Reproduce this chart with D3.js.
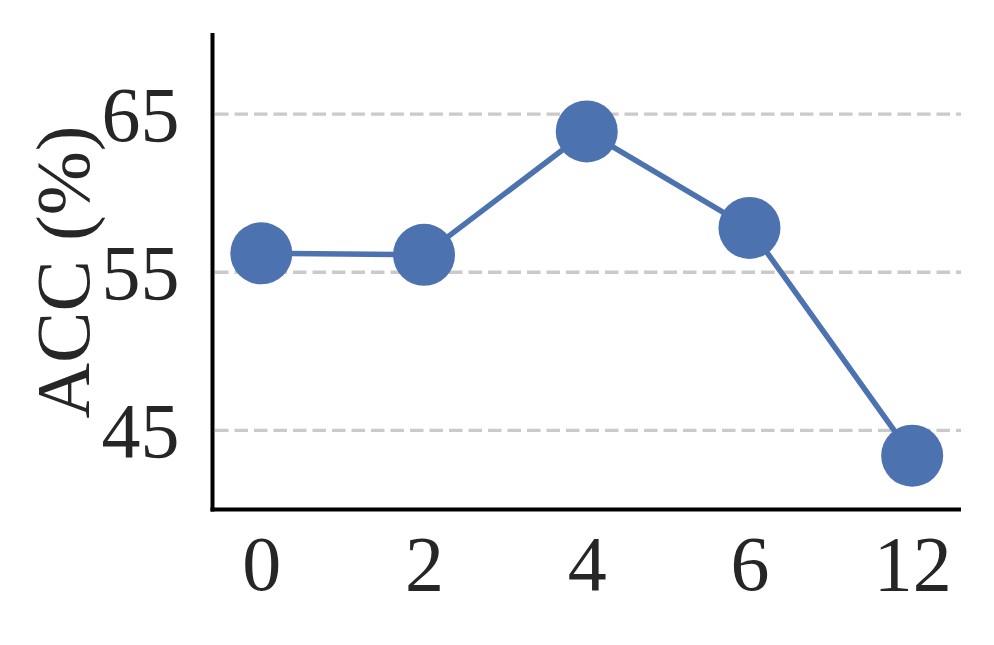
<!DOCTYPE html>
<html>
<head>
<meta charset="utf-8">
<script src="https://cdn.jsdelivr.net/npm/d3@7"></script>
<style>
  html, body { margin: 0; padding: 0; background: #fff; }
  svg { display: block; }
</style>
</head>
<body>
<svg id="chart" width="994" height="645"></svg>
<script>
// ACC (%) frente al número de capas — línea con marcadores grandes
const categories = ['0', '2', '4', '6', '12'];
const accValues = [56.2, 56.1, 63.9, 57.8, 43.4];
const yTicks = [45, 55, 65];

const M = { left: 212.5, right: 961, top: 35, bottom: 509.5 };
const BLUE = '#4C72B0', INK = '#262626';
const FONT = '"Liberation Serif", "Times New Roman", serif';

const svg = d3.select('#chart');

const x = d3.scalePoint().domain(categories).range([M.left, M.right]).padding(0.3);
const y = d3.scaleLinear().domain([40, 70]).range([M.bottom, M.top]);

// rejilla horizontal discontinua
svg.append('g').selectAll('line').data(yTicks).join('line')
  .attr('x1', M.left + 2.5).attr('x2', M.right)
  .attr('y1', d => y(d)).attr('y2', d => y(d))
  .attr('stroke', '#cacaca').attr('stroke-width', 3.4)
  .attr('stroke-dasharray', '13.5,6');

// ejes (sin marcas de tick)
const yAxis = svg.append('g').attr('transform', `translate(${M.left},0)`)
  .call(d3.axisLeft(y).tickValues(yTicks).tickSize(0).tickPadding(33));
const xAxis = svg.append('g').attr('transform', `translate(0,${M.bottom})`)
  .call(d3.axisBottom(x).tickSize(0).tickPadding(27));

[yAxis, xAxis].forEach(g => {
  g.select('.domain').attr('stroke', '#000').attr('stroke-width', 4);
  g.selectAll('text').attr('font-family', FONT).style('font-size', '78px').attr('fill', INK);
});
yAxis.select('.domain').attr('d', `M0,${M.top - 2}V${M.bottom + 2}`);
xAxis.select('.domain').attr('d', `M${M.left - 2},0H${M.right}`);
yAxis.selectAll('text').attr('dy', '0.34em');
xAxis.selectAll('text').attr('dy', '0.68em');

// etiqueta del eje Y
svg.append('text')
  .attr('transform', `translate(89,272) rotate(-90)`)
  .attr('text-anchor', 'middle')
  .attr('font-family', FONT).style('font-size', '77px').attr('fill', INK)
  .text('ACC (%)');

// serie
const pts = categories.map((c, i) => ({ c, v: accValues[i] }));
svg.append('path').datum(pts)
  .attr('fill', 'none').attr('stroke', BLUE).attr('stroke-width', 5.5)
  .attr('stroke-linejoin', 'round')
  .attr('d', d3.line().x(d => x(d.c)).y(d => y(d.v)));

svg.append('g').selectAll('circle').data(pts).join('circle')
  .attr('cx', d => x(d.c)).attr('cy', d => y(d.v)).attr('r', 31)
  .attr('fill', BLUE);
</script>
</body>
</html>
